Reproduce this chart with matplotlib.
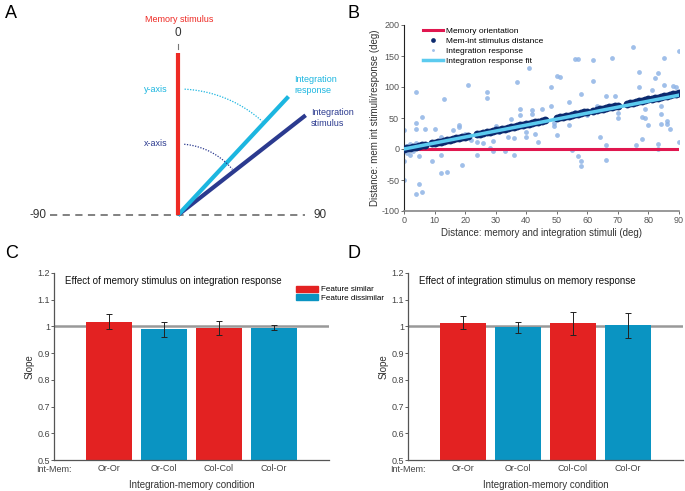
import numpy as np
import matplotlib
matplotlib.use("Agg")
import matplotlib.pyplot as plt
from matplotlib.patches import Patch

plt.rcParams['font.family'] = ['Liberation Sans', 'DejaVu Sans']
plt.rcParams['axes.unicode_minus'] = False

# ---- panel A: orientations (deg from vertical) ----
arm_len = 162
mem_angle = 0
resp_angle = 43
stim_angle = 52

# ---- panel B: data ----
stim_dist = [0, 1, 2, 3, 4, 5, 6, 7, 9, 10, 11, 12, 13, 14, 15, 16, 17, 18, 19, 20,
             21, 24, 25, 26, 27, 28, 29, 30, 31, 32, 33, 34, 35, 36, 37, 38, 39, 40,
             41, 42, 43, 44, 45, 46, 50, 51, 52, 53, 54, 55, 56, 57, 58, 59, 60, 62,
             63, 64, 65, 66, 67, 68, 69, 70, 73, 74, 75, 76, 77, 78, 79, 80, 81, 82,
             83, 84, 85, 86, 87, 88, 89, 90]
resp_x = [0, 0, 0, 0.5, 1, 1.5, 2, 2, 3, 4, 4, 4, 4, 4, 5, 5, 6, 6, 7, 9, 10, 12, 12,
          12, 13, 14, 16, 18, 18, 19, 20, 21, 24, 24, 26, 27, 27, 28, 29, 29, 30, 33,
          34, 35, 36, 36, 37, 38, 38, 40, 40, 41, 42, 42, 43, 44, 45, 48, 48, 49, 49,
          50, 51, 50, 54, 54, 55, 56, 57, 57, 58, 58, 58, 60, 62, 62, 64, 66, 66, 66,
          68, 69, 70, 70, 75, 76, 77, 77, 78, 79, 78, 79, 80, 81, 82, 83, 83, 83, 84,
          84, 84, 85, 85, 86, 86, 87, 88, 89, 90, 90, 63, 56, 46, 22, 8, 31, 53]
resp_y = [30, -20, -50, 5, -7, 3, -10, 8, -3, 92, 42, 32, -72, 10, -12, -57, 52, -70,
          33, -20, 32, 20, -10, -39, 80, -37, 30, 39, 35, -26, 25, 103, -10, 12, 10,
          92, 83, 1, -4, 13, 37, -4, 20, 49, -10, 17, 108, 65, 55, 28, 20, 130, 63,
          56, 24, 12, 64, 100, 69, 42, 37, 118, 116, 23, 76, 39, -2, 145, 145, -11,
          -20, -27, 88, 55, 143, 110, 19, 86, 6, -17, 147, 86, 58, 50, 165, 6, 125,
          100, 52, 50, 16, 64, 39, 95, 114, 122, 8, 0, 57, 41, 69, 147, 103, 45, 40,
          33, 102, 100, 158, 12, 70, 60, 45, 15, 8, 28, 55]
fit_slope = 0.965

# ---- panels C and D: slopes ----
conditions = ['Or-Or', 'Or-Col', 'Col-Col', 'Col-Or']
similar = [True, False, True, False]
slope_c = [1.018, 0.989, 0.995, 0.995]
err_c = [0.028, 0.029, 0.026, 0.010]
slope_d = [1.014, 0.996, 1.011, 1.004]
err_d = [0.025, 0.020, 0.044, 0.047]

RED = '#e32222'
BLUE = '#0a94c2'

fig = plt.figure(figsize=(6.85, 4.91), dpi=100)

# ---------------- A ----------------
ax = fig.add_axes([0, 0.5, 0.5, 0.5])
ax.set_xlim(-178, 164.5)
ax.set_ylim(-30.5, 215)
ax.axis('off')
ax.plot([-128, 127], [0, 0], ls=(0, (4, 3)), color='#777777', lw=1.3)
ax.text(-140, 0, '-90', ha='center', va='center', fontsize=8.5, color='#333333')
ax.text(142, 0, '90', ha='center', va='center', fontsize=8.5, color='#333333')
for ang, col, lw in [(stim_angle, '#2b3a8f', 3), (resp_angle, '#1cb6e0', 3),
                     (mem_angle, '#ee2a24', 3)]:
    a = np.radians(ang)
    ax.plot([0, arm_len * np.sin(a)], [0, arm_len * np.cos(a)], color=col, lw=lw,
            solid_capstyle='butt')
ax.plot([0, 0], [166, 171], color='#777777', lw=0.8)
ax.text(0, 182, '0', ha='center', va='center', fontsize=8.5, color='#333333')
ax.text(1, 196, 'Memory stimulus', ha='center', va='center', fontsize=6.5,
        color='#ee2a24')
for r, a0, a1, col, lab in [(126, 3, resp_angle - 1, '#1cb6e0', 'y-axis'),
                            (71, 5, stim_angle - 2, '#2b3a8f', 'x-axis')]:
    t = np.radians(np.linspace(a0, a1, 60))
    ax.plot(r * np.sin(t), r * np.cos(t), ls=(0, (1, 1.2)), color=col, lw=0.9)
    ax.text(-10, r, lab, ha='right', va='center', fontsize=6.5, color=col)
ax.text(116, 130, 'Integration\nresponse', ha='left', va='center', fontsize=6.5,
        color='#1cb6e0', linespacing=1.15)
ax.text(133, 97, 'Integration\nstimulus', ha='left', va='center', fontsize=6.5,
        color='#2b3a8f', linespacing=1.15)

# ---------------- B ----------------
axb = fig.add_axes([404 / 685, 1 - 211 / 491, 275 / 685, 186 / 491])
xs = np.array([0, 90])
axb.plot(xs, [0, 0], color='#e0174f', lw=2.2, label='Memory orientation', zorder=2)
axb.scatter(resp_x, resp_y, s=12, color='#8fb4e6', alpha=0.85, lw=0,
            label='Integration response', zorder=1)
axb.scatter(stim_dist, stim_dist, s=32, color='#0c2a6e', lw=0,
            label='Mem-int stimulus distance', zorder=3)
axb.plot(xs, fit_slope * xs, color='#5ccbef', lw=2.5, label='Integration response fit',
         zorder=4)
axb.set_xlim(0, 90)
axb.set_ylim(-100, 200)
axb.set_xticks(range(0, 91, 10))
axb.set_yticks(range(-100, 201, 50))
axb.set_xlabel('Distance: memory and integration stimuli (deg)', fontsize=7,
               color='#333333', labelpad=2)
axb.set_ylabel('Distance: mem int stimuli/response (deg)', fontsize=7,
               color='#333333', labelpad=1)
h, l = axb.get_legend_handles_labels()
order = [0, 2, 1, 3]
axb.legend([h[i] for i in order], [l[i] for i in order], loc='upper left',
           bbox_to_anchor=(0.04, 1.03), frameon=False, fontsize=6, handlelength=2.4,
           handletextpad=0.4, labelspacing=0.25, markerscale=0.6)
for s in ['top', 'right']:
    axb.spines[s].set_visible(False)
axb.spines['left'].set_color('#222222')
axb.spines['bottom'].set_color('#888888')
axb.spines['bottom'].set_linewidth(1.2)
axb.tick_params(labelsize=6.5, length=2, width=0.6, pad=1.5, colors='#555555')

# ---------------- C & D ----------------
def slope_panel(rect, vals, errs, title):
    a = fig.add_axes(rect)
    pos = np.arange(1, len(conditions) + 1)
    cols = [RED if s else BLUE for s in similar]
    a.axhline(1.0, color='#999999', lw=1.8, zorder=0)
    a.bar(pos, vals, width=0.82, color=cols, zorder=1)
    a.errorbar(pos, vals, yerr=errs, fmt='none', ecolor='#222222', elinewidth=0.7,
               capsize=2, capthick=0.7, zorder=2)
    a.set_xlim(0, 5)
    a.set_ylim(0.5, 1.2)
    a.set_yticks(np.arange(0.5, 1.21, 0.1))
    a.set_yticklabels(['0.5', '0.6', '0.7', '0.8', '0.9', '1', '1.1', '1.2'])
    a.set_xticks(pos)
    a.set_xticklabels(conditions)
    a.text(0, -0.05, 'Int-Mem:', transform=a.get_xaxis_transform(), ha='center',
           va='center', fontsize=6.5, color='#444444')
    a.set_xlabel('Integration-memory condition', fontsize=7, color='#333333',
                 labelpad=5)
    a.set_ylabel('Slope', fontsize=7, color='#333333', labelpad=2)
    a.text(0.04, 0.955, title, transform=a.transAxes, fontsize=7, color='#111111',
           va='center')
    for s in ['top', 'right']:
        a.spines[s].set_visible(False)
    for s in ['left', 'bottom']:
        a.spines[s].set_color('#555555')
        a.spines[s].set_linewidth(0.9)
    a.tick_params(axis='x', length=0, labelsize=6.5, colors='#444444', pad=3)
    a.tick_params(axis='y', length=2, width=0.6, labelsize=6.5, colors='#444444',
                  pad=1)
    return a

axc = slope_panel([54 / 685, 31 / 491, 275 / 685, 187 / 491], slope_c, err_c,
                  'Effect of memory stimulus on integration response')
axd = slope_panel([408 / 685, 31 / 491, 275 / 685, 187 / 491], slope_d, err_d,
                  'Effect of integration stimulus on memory response')
axc.legend(handles=[Patch(color=RED, label='Feature similar'),
                    Patch(color=BLUE, label='Feature dissimilar')],
           loc='upper left', bbox_to_anchor=(0.87, 0.95), frameon=False, fontsize=5.8,
           handlelength=2.7, handleheight=0.8, handletextpad=0.3, labelspacing=0.1,
           borderaxespad=0)

# panel letters
for lab, x, y in [('A', 5, 13), ('B', 348, 13), ('C', 5, 253), ('D', 348, 253)]:
    fig.text(x / 685, 1 - y / 491, lab, fontsize=13, va='center', ha='left')

fig.savefig('out.png', dpi=100)
